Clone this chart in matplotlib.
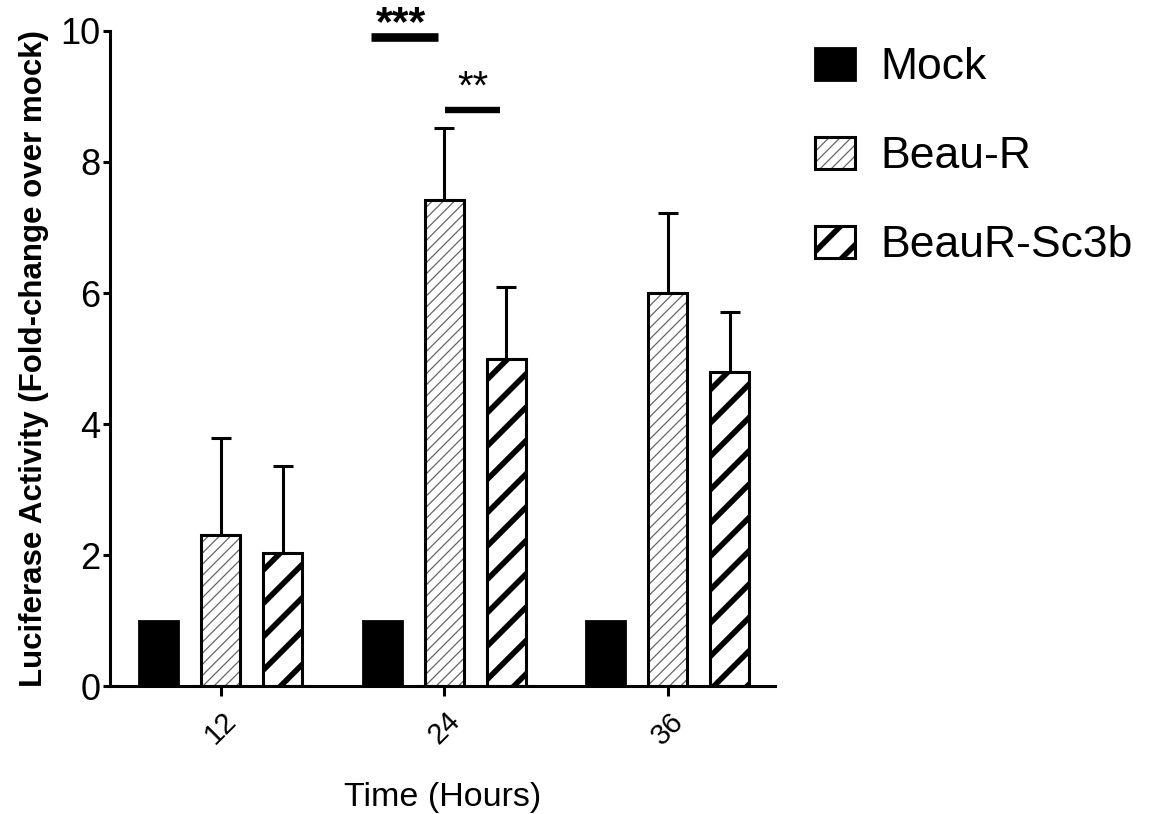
import numpy as np
import matplotlib.pyplot as plt
from matplotlib.patches import Patch

plt.rcParams['font.family'] = ['Liberation Sans', 'DejaVu Sans']

times = ['12', '24', '36']
groups = ['Mock', 'Beau-R', 'BeauR-Sc3b']
mock = [1.0, 1.0, 1.0]
beau = [2.31, 7.42, 6.0]
beau_err = [1.48, 1.1, 1.22]
sc3b = [2.03, 4.99, 4.79]
sc3b_err = [1.33, 1.1, 0.92]

x = np.arange(len(times))
w = 0.175
off = 0.277
grey = (0.4, 0.4, 0.4, 1)

fig = plt.figure(figsize=(11.54, 8.14), dpi=100)
ax = fig.add_axes([0.0953, 0.157, 0.576, 0.805])

ax.bar(x - off, mock, w, color='black', edgecolor='black', linewidth=2)
b1 = ax.bar(x, beau, w, color='white', edgecolor='black', linewidth=2.2, hatch='///')
b2 = ax.bar(x + off, sc3b, w, color='white', edgecolor='black', linewidth=2.2, hatch='/')
for p in b1:
    p.set_hatch_linewidth(0.9)
    p._hatch_color = grey
for p in b2:
    p.set_hatch_linewidth(4)

# upward-only error bars
ax.errorbar(x, beau, yerr=[np.zeros(3), beau_err], fmt='none', ecolor='black',
            elinewidth=2.2, capsize=7, capthick=2.2, zorder=0)
ax.errorbar(x + off, sc3b, yerr=[np.zeros(3), sc3b_err], fmt='none', ecolor='black',
            elinewidth=2.2, capsize=7, capthick=2.2, zorder=0)

# significance markers
ax.plot([0.674, 0.973], [9.9, 9.9], color='black', lw=6.2, solid_capstyle='butt', clip_on=False)
ax.text(0.806, 9.93, '***', ha='center', va='baseline', fontsize=31, fontweight='bold')
ax.plot([1.004, 1.25], [8.79, 8.79], color='black', lw=4.6, solid_capstyle='butt', clip_on=False)
ax.text(1.13, 8.97, '**', ha='center', va='baseline', fontsize=29)

ax.set_xlim(-0.496, 2.478)
ax.set_ylim(0, 10)
ax.set_yticks([0, 2, 4, 6, 8, 10])
ax.set_xticks(x)
ax.set_xticklabels(times, rotation=45, fontsize=21)
ax.tick_params(axis='y', labelsize=26, width=2.2, length=5, pad=2)
ax.tick_params(axis='x', width=2.2, length=7, pad=8)
for s in ['top', 'right']:
    ax.spines[s].set_visible(False)
for s in ['left', 'bottom']:
    ax.spines[s].set_linewidth(2.2)

ax.set_ylabel('Luciferase Activity (Fold-change over mock)', fontsize=22.5,
              fontweight='bold', labelpad=8)
ax.set_xlabel('Time (Hours)', fontsize=24.5, labelpad=23)

handles = [Patch(facecolor='black', edgecolor='black', linewidth=2),
           Patch(facecolor='white', edgecolor='black', linewidth=2.2, hatch='///'),
           Patch(facecolor='white', edgecolor='black', linewidth=2.2, hatch='/')]
leg = fig.legend(handles, groups, loc='upper left', bbox_to_anchor=(0.672, 0.991),
                 frameon=False, fontsize=32, handlelength=0.9, handleheight=0.72,
                 labelspacing=1.08, handletextpad=0.55)
lh = leg.legend_handles
lh[1].set_hatch_linewidth(0.9)
lh[1]._hatch_color = grey
lh[2].set_hatch_linewidth(4)

fig.savefig('out.png', dpi=100)
